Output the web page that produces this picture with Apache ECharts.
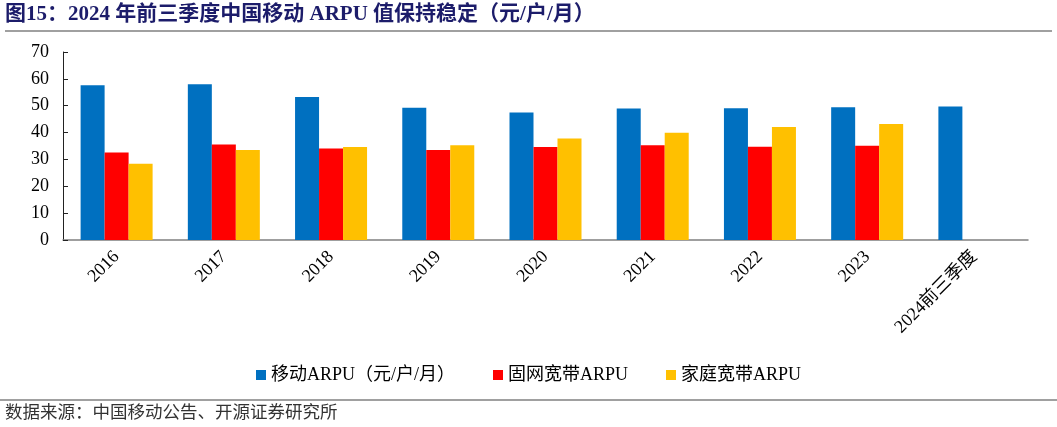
<!DOCTYPE html>
<html><head><meta charset="utf-8">
<script src="https://cdn.jsdelivr.net/npm/echarts@6/dist/echarts.min.js"></script>
<style>html,body{margin:0;padding:0;background:#fff}#c{width:1057px;height:427px}</style>
</head><body><div id="c"></div>
<script>
const categories = ['2016','2017','2018','2019','2020','2021','2022','2023','2024前三季度'];
const mobileArpu = [57.6, 58.0, 53.2, 49.2, 47.5, 49.0, 49.1, 49.4, 49.7];
const broadbandArpu = [32.6, 35.6, 34.1, 33.5, 34.6, 35.3, 34.7, 35.1, null];
const homeArpu = [28.4, 33.5, 34.6, 35.3, 37.8, 39.9, 42.1, 43.2, null];
const seriesNames = ['移动ARPU（元/户/月）', '固网宽带ARPU', '家庭宽带ARPU'];
const colors = ['#0070C0', '#FF0000', '#FFC000'];
const yTicks = [0, 10, 20, 30, 40, 50, 60, 70];

const FONT = '"Liberation Serif", "Noto Sans CJK SC", serif';
const chart = echarts.init(document.getElementById('c'), null, {renderer: 'canvas'});
const mk = (name, data, color) => ({
  name, type: 'bar', data, barWidth: 24, barGap: '0%',
  itemStyle: {color}
});
chart.setOption({
  animation: false,
  textStyle: {fontFamily: FONT},
  grid: {left: 63, right: 29, top: 52, bottom: 187, containLabel: false},
  graphic: [
    {type: 'text', left: 5, top: 4, style: {text: '图15：2024 年前三季度中国移动 ARPU 值保持稳定（元/户/月）', fill: '#1c1c6a', font: 'bold 21px "Liberation Serif", "Noto Sans CJK SC"'}},
    {type: 'line', shape: {x1: 5, y1: 31, x2: 1052, y2: 31}, style: {stroke: '#808080', lineWidth: 1.5}},
    {type: 'line', shape: {x1: 0, y1: 400, x2: 1057, y2: 400}, style: {stroke: '#808080', lineWidth: 1.5}},
    {type: 'text', left: 5, top: 403, style: {text: '数据来源：中国移动公告、开源证券研究所', fill: '#333', font: '17.5px "Noto Sans CJK SC"'}}
  ],
  legend: {
    top: 361, left: 'center',
    itemWidth: 10, itemHeight: 10, itemGap: 38,
    icon: 'rect',
    textStyle: {fontSize: 18, color: '#000', fontFamily: FONT},
    data: seriesNames
  },
  xAxis: {
    type: 'category', data: categories,
    axisLine: {lineStyle: {color: '#808080', width: 1.5}},
    axisTick: {inside: true, length: 5, lineStyle: {color: '#222'}},
    axisLabel: {rotate: 45, fontSize: 18, color: '#000', fontFamily: FONT, margin: 14, interval: 0}
  },
  yAxis: {
    type: 'value', min: 0, max: 70, interval: 10,
    splitLine: {show: false},
    axisLine: {show: true, lineStyle: {color: '#222', width: 1}},
    axisTick: {show: true, inside: true, length: 5, lineStyle: {color: '#222'}},
    axisLabel: {fontSize: 18, color: '#000', fontFamily: FONT, margin: 14,
      formatter: v => yTicks.includes(v) ? String(v) : ''}
  },
  series: [
    mk(seriesNames[0], mobileArpu, colors[0]),
    mk(seriesNames[1], broadbandArpu, colors[1]),
    mk(seriesNames[2], homeArpu, colors[2])
  ]
});
</script></body></html>
